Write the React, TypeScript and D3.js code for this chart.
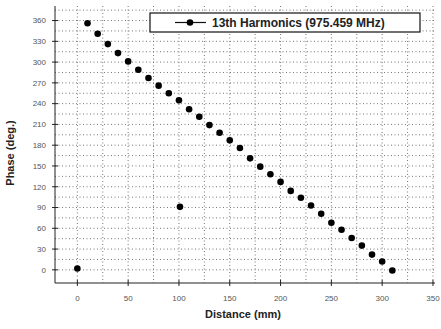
import React from "react";
import * as d3 from "d3";

const distances = [10, 20, 30, 40, 50, 60, 70, 80, 90, 100, 110, 120, 130, 140, 150, 160, 170, 180, 190, 200, 210, 220, 230, 240, 250, 260, 270, 280, 290, 300, 310];
const phases = [356, 341, 326, 313, 301, 289, 277, 266, 255, 245, 232, 221, 209, 198, 187, 176, 161, 149, 138, 127, 114, 104, 93, 81, 68, 58, 46, 35, 22, 12, -1];
const outlierDistances = [0, 101];
const outlierPhases = [2, 91];
const xTickValues = [0, 50, 100, 150, 200, 250, 300, 350];
const yTickValues = [0, 30, 60, 90, 120, 150, 180, 210, 240, 270, 300, 330, 360];
const xGridValues = [0, 25, 50, 75, 100, 125, 150, 175, 200, 225, 250, 275, 300, 325, 350];
const yGridValues = [0, 15, 30, 45, 60, 75, 90, 105, 120, 135, 150, 165, 180, 195, 210, 225, 240, 255, 270, 285, 300, 315, 330, 345, 360, 375];
const legendLabel = "13th Harmonics (975.459 MHz)";

export default function App() {
  const W = 441, H = 329;
  const left = 55, right = 435, top = 6, bottom = 283;
  const x = d3.scaleLinear().domain([-22, 352]).range([left, right]);
  const y = d3.scaleLinear().domain([-19, 381]).range([bottom, top]);
  const font = "'Liberation Sans', Arial, sans-serif";
  return (
    <svg width={W} height={H} style={{ position: "absolute", left: 0, top: 0, background: "#fff" }}>
      <rect x={0} y={0} width={W} height={H} fill="#fff" />
      <g stroke="#666" strokeWidth={0.9} strokeDasharray="1,2.5">
        {xGridValues.map((v) => (
          <line key={"gx" + v} x1={x(v)} x2={x(v)} y1={top} y2={bottom} />
        ))}
        {yGridValues.map((v) => (
          <line key={"gy" + v} x1={left} x2={right} y1={y(v)} y2={y(v)} />
        ))}
      </g>
      <line x1={left} x2={left} y1={top} y2={bottom} stroke="#222" strokeWidth={1} />
      <line x1={left} x2={right} y1={bottom} y2={bottom} stroke="#222" strokeWidth={1} />
      {yTickValues.map((v) => (
        <g key={"ty" + v}>
          <line x1={left - 3} x2={left + 3} y1={y(v)} y2={y(v)} stroke="#222" />
          <text x={left - 9} y={y(v)} dy="0.35em" textAnchor="end" fontSize={8} fill="#555" fontFamily={font}>{v}</text>
        </g>
      ))}
      {xTickValues.map((v) => (
        <g key={"tx" + v}>
          <line x1={x(v)} x2={x(v)} y1={bottom - 3} y2={bottom + 3} stroke="#222" />
          <text x={x(v)} y={bottom + 18} textAnchor="middle" fontSize={8} fill="#555" fontFamily={font}>{v}</text>
        </g>
      ))}
      {distances.map((d, i) => (
        <circle key={"p" + i} cx={x(d)} cy={y(phases[i])} r={3.3} fill="#000" />
      ))}
      {outlierDistances.map((d, i) => (
        <circle key={"o" + i} cx={x(d)} cy={y(outlierPhases[i])} r={3.3} fill="#000" />
      ))}
      <rect x={150} y={13} width={270} height={19} fill="#fff" stroke="#111" strokeWidth={1.2} />
      <line x1={175} x2={206} y1={22.5} y2={22.5} stroke="#111" strokeWidth={1.2} />
      <circle cx={190} cy={22.5} r={3.3} fill="#000" />
      <text x={212} y={22.5} dy="0.36em" fontSize={12} fontWeight="bold" fill="#222" fontFamily={font}>{legendLabel}</text>
      <text x={243} y={318} textAnchor="middle" fontSize={11} fontWeight="bold" fill="#222" fontFamily={font}>Distance (mm)</text>
      <text transform={`translate(14, 153) rotate(-90)`} textAnchor="middle" fontSize={11} fontWeight="bold" fill="#222" fontFamily={font}>Phase (deg.)</text>
    </svg>
  );
}
